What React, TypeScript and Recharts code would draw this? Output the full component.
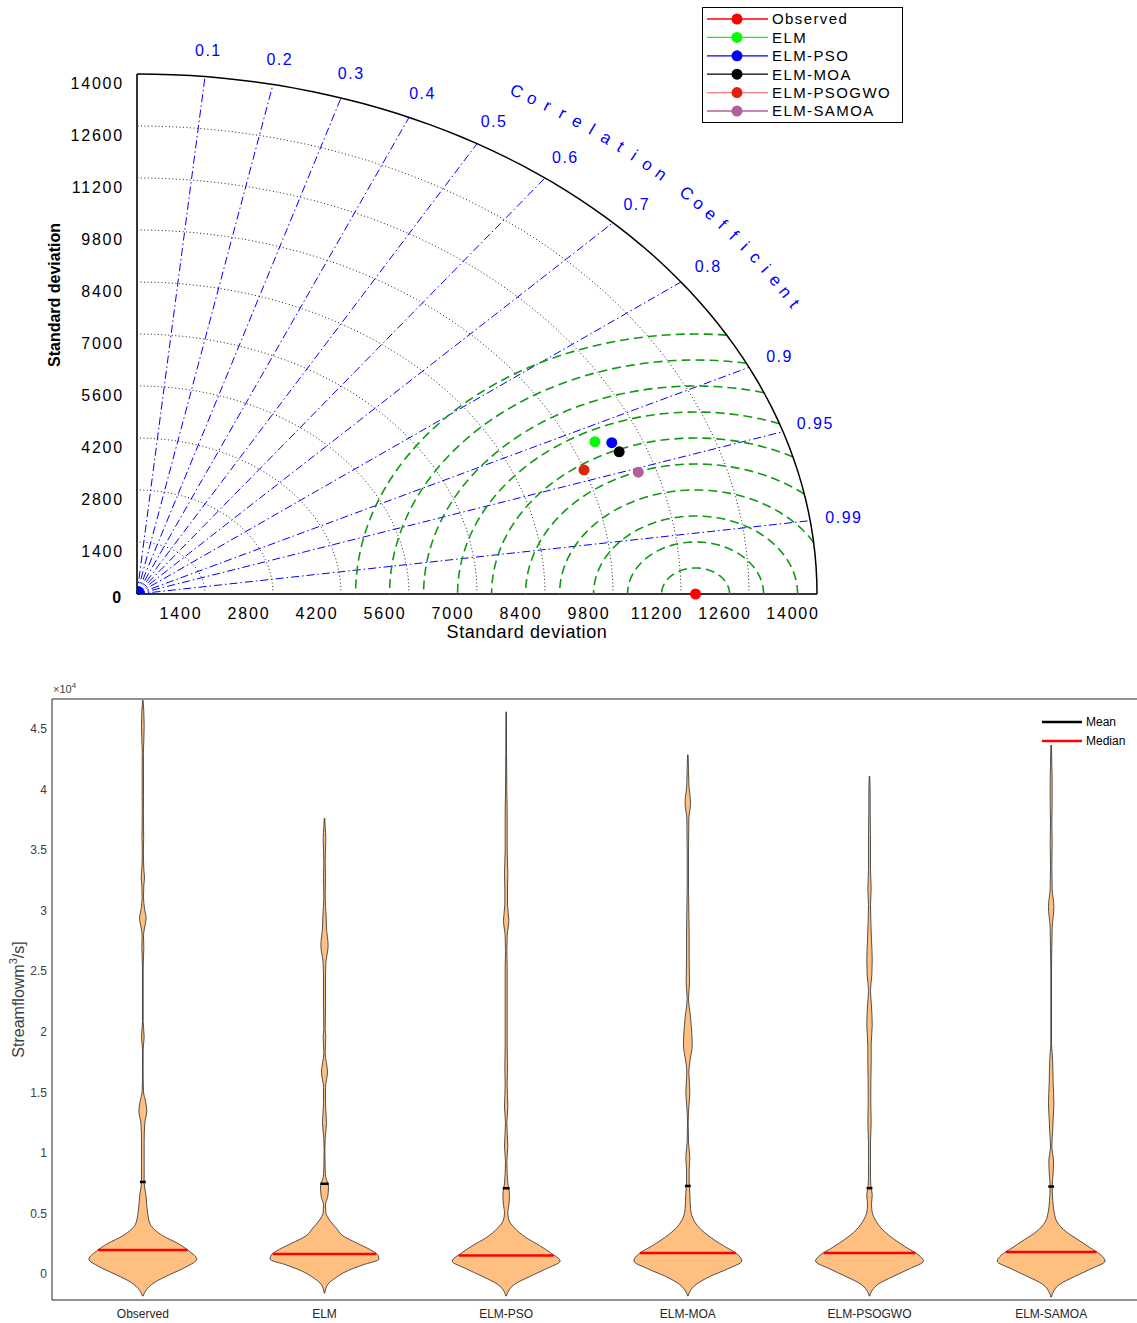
import React from "react";
import {
  Area,
  ComposedChart,
  Legend,
  ReferenceDot,
  ReferenceLine,
  Scatter,
  ScatterChart,
  XAxis,
  YAxis,
} from "recharts";

const FONT = "'Liberation Sans', Arial, Helvetica, sans-serif";

// ---------- Taylor diagram ----------
const modelNames = ["Observed", "ELM", "ELM-PSO", "ELM-MOA", "ELM-PSOGWO", "ELM-SAMOA"];
const modelStd = [11500, 10280, 10590, 10640, 9790, 10830];
const modelCorr = [1, 0.917, 0.923, 0.933, 0.94, 0.953];
const markerColors = ["#ff0000", "#00ff00", "#0000ff", "#000000", "#e2200c", "#b45f9b"];
const legendLineColors = ["#ff0000", "#00ff00", "#0000ff", "#000000", "#f08080", "#b45f9b"];
const stdTicks = [1400, 2800, 4200, 5600, 7000, 8400, 9800, 11200, 12600, 14000];
const corrTicks = [0.1, 0.2, 0.3, 0.4, 0.5, 0.6, 0.7, 0.8, 0.9, 0.95, 0.99];
const rmsTicks = [700, 1400, 2100, 2800, 3500, 4200, 4900, 5600, 6300, 7000];
const corrTitle = "Correlation Coefficient";

const STD_MAX = 14000;
const OBS_STD = modelStd[0];

// ---------- Violin plot ----------
const violinNames = ["Observed", "ELM", "ELM-PSO", "ELM-MOA", "ELM-PSOGWO", "ELM-SAMOA"];
const violinMeans = [7600, 7450, 7080, 7270, 7090, 7220];
const violinMedians = [1980, 1650, 1530, 1730, 1730, 1810];
const streamTicks = [0, 5000, 10000, 15000, 20000, 25000, 30000, 35000, 40000, 45000];

// [streamflow, half width of the density]
const observedProfile: [number, number][] = [
  [47380, 0.0015], [46420, 0.0055], [45290, 0.0073], [44000, 0.0055], [43040, 0.003],
  [41430, 0.0037], [39500, 0.0037], [38220, 0.003], [35960, 0.0046], [35000, 0.003],
  [33390, 0.0055], [32750, 0.0092], [32100, 0.0055], [31140, 0.0037], [30170, 0.0092],
  [29370, 0.018], [28570, 0.0092], [27920, 0.0037], [26960, 0.0055], [25350, 0.002],
  [23100, 0.002], [20850, 0.002], [19560, 0.0073], [18600, 0.002], [16990, 0.0015],
  [15060, 0.0037], [14260, 0.015], [13450, 0.022], [12490, 0.011], [10880, 0.0073],
  [9270, 0.0073], [7660, 0.0073], [6380, 0.018], [5090, 0.026], [4130, 0.04],
  [3160, 0.11], [2520, 0.193], [1870, 0.257], [1230, 0.297], [590, 0.239],
  [-60, 0.147], [-700, 0.064], [-1340, 0.018], [-1830, 0.0015],
];
const elmProfile: [number, number][] = [
  [37640, 0.0015], [36930, 0.0037], [35960, 0.0073], [35000, 0.0055], [34030, 0.0037],
  [32750, 0.0055], [31140, 0.0037], [29530, 0.0092], [28570, 0.011], [27120, 0.02],
  [25670, 0.0073], [24710, 0.0055], [22140, 0.0055], [20200, 0.0037], [19560, 0.0073],
  [18280, 0.0037], [16670, 0.0165], [15380, 0.0055], [14100, 0.0055], [12490, 0.011],
  [11200, 0.0037], [10240, 0.002], [8630, 0.0037], [7990, 0.0073], [7180, 0.022],
  [6380, 0.018], [5730, 0.0055], [5090, 0.0073], [4450, 0.0275], [3800, 0.064],
  [3160, 0.101], [2520, 0.183], [2040, 0.248], [1550, 0.294], [1230, 0.3],
  [750, 0.211], [270, 0.128], [-380, 0.055], [-860, 0.018], [-1600, 0.0015],
];
const psoProfile: [number, number][] = [
  [46420, 0.0015], [43040, 0.002], [39820, 0.0037], [38220, 0.0055], [35960, 0.0055],
  [35000, 0.0055], [33070, 0.0092], [31780, 0.0073], [30500, 0.0073], [29210, 0.015],
  [27920, 0.0055], [26640, 0.0037], [25350, 0.0055], [22140, 0.0055], [18920, 0.0055],
  [16990, 0.0073], [15700, 0.0055], [13790, 0.0092], [12490, 0.0037], [10560, 0.0092],
  [9270, 0.0037], [8310, 0.0055], [7500, 0.0092], [6540, 0.018], [5730, 0.015],
  [5090, 0.0092], [4450, 0.015], [3800, 0.046], [3000, 0.11], [2360, 0.183],
  [1710, 0.248], [1070, 0.297], [430, 0.22], [-220, 0.128], [-860, 0.046],
  [-1500, 0.0092], [-1830, 0.0015],
];
const moaProfile: [number, number][] = [
  [42880, 0.0015], [41750, 0.0037], [40470, 0.0055], [38860, 0.015], [37570, 0.0055],
  [35000, 0.0037], [31780, 0.0037], [29850, 0.0055], [27920, 0.0073], [25990, 0.0073],
  [24070, 0.0092], [22780, 0.0037], [21170, 0.015], [18920, 0.024], [17310, 0.0092],
  [16670, 0.0055], [15060, 0.011], [13770, 0.0055], [12490, 0.002], [10880, 0.0037],
  [9590, 0.011], [8630, 0.0073], [7660, 0.0073], [6700, 0.011], [5400, 0.015],
  [4610, 0.0275], [3800, 0.064], [3000, 0.128], [2360, 0.193], [1710, 0.266],
  [1070, 0.297], [430, 0.22], [-220, 0.119], [-860, 0.046], [-1500, 0.0092],
  [-1830, 0.0015],
];
const psogwoProfile: [number, number][] = [
  [41110, 0.0015], [39500, 0.0037], [38220, 0.0037], [36290, 0.0055], [35000, 0.0055],
  [33390, 0.0055], [31780, 0.0092], [30500, 0.0055], [29210, 0.0073], [27600, 0.011],
  [25990, 0.015], [24710, 0.013], [23420, 0.0055], [22140, 0.011], [20530, 0.015],
  [18920, 0.0092], [17310, 0.0092], [15700, 0.0073], [14100, 0.0073], [12490, 0.0092],
  [10880, 0.0055], [9270, 0.0055], [7990, 0.0055], [7340, 0.0073], [6540, 0.015],
  [5730, 0.011], [5090, 0.015], [4450, 0.033], [3640, 0.073], [2840, 0.138],
  [2200, 0.202], [1550, 0.272], [1070, 0.297], [430, 0.22], [-220, 0.128],
  [-860, 0.046], [-1500, 0.0092], [-1830, 0.0015],
];
const samoaProfile: [number, number][] = [
  [43680, 0.0015], [42070, 0.0037], [40790, 0.0055], [38860, 0.0055], [37250, 0.0037],
  [35640, 0.0055], [33710, 0.0037], [31780, 0.0055], [30340, 0.015], [28570, 0.0055],
  [26960, 0.0037], [25350, 0.002], [22140, 0.002], [18920, 0.002], [18280, 0.0055],
  [16990, 0.0092], [15700, 0.011], [14100, 0.015], [12810, 0.011], [11580, 0.0073],
  [10560, 0.0037], [9270, 0.013], [7990, 0.0092], [7180, 0.0055], [6060, 0.0092],
  [5090, 0.0165], [4290, 0.033], [3480, 0.083], [2840, 0.147], [2200, 0.211],
  [1550, 0.275], [1070, 0.297], [430, 0.22], [-220, 0.128], [-860, 0.046],
  [-1500, 0.011], [-1920, 0.0015],
];
const violinProfiles = [observedProfile, elmProfile, psoProfile, moaProfile, psogwoProfile, samoaProfile];

const Y_MIN = -2147;
const Y_MAX = 47477;

// ---------- geometry helpers (grid of the Taylor diagram) ----------
const toXY = (std: number, corr: number) => ({
  x: std * corr,
  y: std * Math.sqrt(Math.max(0, 1 - corr * corr)),
});

const stdArc = (r: number) => {
  const pts: { x: number; y: number }[] = [];
  for (let a = 0; a <= 90; a += 1.5) {
    const t = (a * Math.PI) / 180;
    pts.push({ x: r * Math.cos(t), y: r * Math.sin(t) });
  }
  return pts;
};

const rmsArc = (rho: number) => {
  const pts: { x: number; y: number }[] = [];
  if (OBS_STD + rho > STD_MAX) {
    const xi = (STD_MAX * STD_MAX - rho * rho + OBS_STD * OBS_STD) / (2 * OBS_STD);
    pts.push({ x: xi, y: Math.sqrt(STD_MAX * STD_MAX - xi * xi) });
  }
  for (let a = 0; a <= 180; a += 2) {
    const t = (a * Math.PI) / 180;
    const x = OBS_STD + rho * Math.cos(t);
    const y = Math.max(0, rho * Math.sin(t));
    if (Math.hypot(x, y) <= STD_MAX) pts.push({ x, y });
  }
  return pts;
};

const noShape = () => <g />;

const profileAt = (profile: [number, number][], v: number) => {
  const sorted = [...profile].sort((a, b) => a[0] - b[0]);
  for (let k = 0; k < sorted.length - 1; k++) {
    const [y0, w0] = sorted[k];
    const [y1, w1] = sorted[k + 1];
    if (v >= y0 && v <= y1) return w0 + ((w1 - w0) * (v - y0)) / (y1 - y0);
  }
  return 0;
};

const TaylorLegend = () => (
  <div style={{ width: 201, height: 116, border: "1px solid #000", background: "#fff", boxSizing: "border-box" }}>
    <svg width={199} height={114}>
      {modelNames.map((n, i) => (
        <g key={n} transform={`translate(0, ${11 + i * 18.4})`}>
          <line x1={4} x2={65} y1={0} y2={0} stroke={legendLineColors[i]} strokeWidth={1.3} />
          <circle cx={34} cy={0} r={5.5} fill={markerColors[i]} />
          <text x={69} y={0} dy="0.36em" fontSize={15} letterSpacing={1.4} fontFamily={FONT} fill="#000">
            {n}
          </text>
        </g>
      ))}
    </svg>
  </div>
);

const ViolinLegend = () => (
  <svg width={95} height={36}>
    <line x1={2} x2={42} y1={7} y2={7} stroke="#000" strokeWidth={2.5} />
    <text x={46} y={7} dy="0.36em" fontSize={12} fontFamily={FONT} fill="#000">Mean</text>
    <line x1={2} x2={42} y1={26} y2={26} stroke="#ff0000" strokeWidth={2.5} />
    <text x={46} y={26} dy="0.36em" fontSize={12} fontFamily={FONT} fill="#000">Median</text>
  </svg>
);

function TaylorDiagram() {
  const plotW = 680;
  const plotH = 520;
  const titleStep = 30 / (corrTitle.length - 1);
  return (
    <ScatterChart width={1137} height={660} margin={{ top: 74, right: 320, bottom: 26, left: 37 }}>
      <XAxis
        type="number"
        dataKey="x"
        domain={[0, STD_MAX]}
        ticks={stdTicks}
        interval={0}
        height={40}
        tickLine={false}
        tickSize={0}
        tickMargin={0}
        axisLine={{ stroke: "#333", strokeWidth: 2 }}
        tick={(p: any) => (
          <text x={p.x - 24} y={p.y + 19} dy="0.36em" textAnchor="middle" fontSize={16} letterSpacing={1.8} fontFamily={FONT} fill="#000">
            {p.payload.value}
          </text>
        )}
        label={{
          content: ({ viewBox }: any) => (
            <text x={viewBox.x + viewBox.width / 2 + 50} y={viewBox.y + 38} dy="0.36em" textAnchor="middle" fontSize={18} letterSpacing={0.6} fontFamily={FONT} fill="#000">
              Standard deviation
            </text>
          ),
        }}
      />
      <YAxis
        type="number"
        dataKey="y"
        domain={[0, STD_MAX]}
        ticks={[0, ...stdTicks]}
        interval={0}
        width={100}
        tickLine={false}
        tickSize={0}
        tickMargin={13}
        axisLine={{ stroke: "#333", strokeWidth: 2 }}
        tick={(p: any) => (
          <text
            x={p.payload.value === 0 ? p.x - 1 : p.x}
            y={p.payload.value === 0 ? p.y + 3 : p.y + 9}
            dy="0.36em"
            textAnchor="end"
            fontSize={16}
            fontWeight={p.payload.value === 0 ? 700 : 400}
            letterSpacing={1.8}
            fontFamily={FONT}
            fill="#000"
          >
            {p.payload.value}
          </text>
        )}
        label={{
          content: ({ viewBox }: any) => {
            const lx = viewBox.x + viewBox.width - 83;
            const ly = viewBox.y + 221;
            return (
              <text
                x={lx}
                y={ly}
                transform={`rotate(-90, ${lx}, ${ly})`}
                dy="0.36em"
                textAnchor="middle"
                fontSize={16}
                fontWeight={700}
                fontFamily={FONT}
                fill="#000"
              >
                Standard deviation
              </text>
            );
          },
        }}
      />

      {stdTicks.slice(0, -1).map((r) => (
        <Scatter
          key={`std-${r}`}
          data={stdArc(r)}
          line={{ stroke: "#222", strokeWidth: 1, strokeDasharray: "1 2.5" }}
          shape={noShape}
          isAnimationActive={false}
        />
      ))}

      {corrTicks.map((c) => (
        <Scatter
          key={`corr-${c}`}
          data={[{ x: 0, y: 0 }, toXY(STD_MAX, c)]}
          line={{ stroke: "#0000ff", strokeWidth: 1, strokeDasharray: "8 3 1.5 3" }}
          shape={noShape}
          isAnimationActive={false}
        />
      ))}

      {rmsTicks.map((rho) => (
        <Scatter
          key={`rms-${rho}`}
          data={rmsArc(rho)}
          line={{ stroke: "#119911", strokeWidth: 1.6, strokeDasharray: "9 5" }}
          shape={noShape}
          isAnimationActive={false}
        />
      ))}

      <Scatter
        data={stdArc(STD_MAX)}
        line={{ stroke: "#000", strokeWidth: 1.5 }}
        shape={noShape}
        isAnimationActive={false}
      />

      <ReferenceDot
        x={0}
        y={0}
        ifOverflow="visible"
        shape={(p: any) => <path d={`M${p.cx},${p.cy} L${p.cx + 8},${p.cy} A8,8 0 0,0 ${p.cx},${p.cy - 8} Z`} fill="#0000ff" />}
      />

      {modelNames.map((n, i) => (
        <Scatter
          key={n}
          name={n}
          data={[toXY(modelStd[i], modelCorr[i])]}
          shape={(p: any) => <circle cx={p.cx} cy={p.cy} r={5.5} fill={markerColors[i]} />}
          isAnimationActive={false}
        />
      ))}

      {corrTicks.map((c) => {
        const pt = toXY(14700, c);
        return (
          <ReferenceDot
            key={`clabel-${c}`}
            x={pt.x}
            y={pt.y}
            ifOverflow="visible"
            shape={(p: any) => (
              <text x={p.cx} y={p.cy} dy="0.36em" textAnchor="middle" fontSize={16} letterSpacing={1.5} fontFamily={FONT} fill="#0000ff">
                {c}
              </text>
            )}
          />
        );
      })}

      {corrTitle.split("").map((ch, k) => {
        if (ch === " ") return null;
        const deg = 60 - k * titleStep;
        const t = (deg * Math.PI) / 180;
        const pt = { x: 15640 * Math.cos(t), y: 15640 * Math.sin(t) };
        const rot = (Math.atan2(plotH * Math.cos(t), plotW * Math.sin(t)) * 180) / Math.PI;
        return (
          <ReferenceDot
            key={`title-${k}`}
            x={pt.x}
            y={pt.y}
            ifOverflow="visible"
            shape={(p: any) => (
              <text
                x={p.cx}
                y={p.cy}
                dy="0.36em"
                textAnchor="middle"
                transform={`rotate(${rot}, ${p.cx}, ${p.cy})`}
                fontSize={17}
                fontFamily={FONT}
                fill="#0000ff"
              >
                {ch}
              </text>
            )}
          />
        );
      })}

      <Legend
        layout="horizontal"
        verticalAlign="middle"
        align="center"
        content={() => <TaylorLegend />}
        wrapperStyle={{ left: 702, top: 7, width: 201, height: 116 }}
      />
    </ScatterChart>
  );
}

function ViolinPlot() {
  return (
    <ComposedChart layout="vertical" width={1146} height={663} margin={{ top: 39, right: 4, bottom: 3, left: 2 }}>
      <XAxis
        type="number"
        domain={[-0.5, 5.5]}
        ticks={[0, 1, 2, 3, 4, 5]}
        interval={0}
        height={20}
        tickLine={false}
        tickSize={0}
        tickMargin={9}
        tickFormatter={(i: number) => violinNames[i]}
        tick={{ fill: "#262626", fontSize: 12, fontFamily: FONT }}
        axisLine={{ stroke: "#262626", strokeWidth: 1 }}
      />
      <YAxis
        type="number"
        dataKey="y"
        reversed
        domain={[Y_MIN, Y_MAX]}
        ticks={streamTicks}
        interval={0}
        width={50}
        tickLine={false}
        tickSize={0}
        tickMargin={5}
        tickFormatter={(v: number) => String(v / 10000)}
        tick={{ fill: "#404040", fontSize: 12, fontFamily: FONT }}
        axisLine={{ stroke: "#262626", strokeWidth: 1 }}
        label={{
          content: ({ viewBox }: any) => {
            const ax = viewBox.x + viewBox.width;
            const lx = ax - 34;
            const ly = viewBox.y + viewBox.height / 2;
            return (
              <g>
                <text x={ax + 1} y={viewBox.y - 6} fontSize={11} fontFamily={FONT} fill="#404040">
                  ×10
                  <tspan dy={-5} fontSize={8}>4</tspan>
                </text>
                <text
                  x={lx}
                  y={ly}
                  transform={`rotate(-90, ${lx}, ${ly})`}
                  dy="0.36em"
                  textAnchor="middle"
                  fontSize={16}
                  fontFamily={FONT}
                  fill="#404040"
                >
                  Streamflowm
                  <tspan dy={-7} fontSize={11}>3</tspan>
                  <tspan dy={7}>/s]</tspan>
                </text>
              </g>
            );
          },
        }}
      />
      <ReferenceLine y={Y_MAX} stroke="#262626" strokeWidth={1} />

      {violinProfiles.map((profile, i) => {
        const rows = [...profile]
          .sort((a, b) => a[0] - b[0])
          .map(([y, w]) => ({ y, [`v${i}`]: [i - w, i + w] }));
        return (
          <Area
            key={`violin-${i}`}
            data={rows}
            dataKey={`v${i}`}
            type="monotone"
            fill="#ffbf80"
            fillOpacity={1}
            stroke="#2a2a2a"
            strokeWidth={0.8}
            dot={false}
            activeDot={false}
            isAnimationActive={false}
          />
        );
      })}

      {violinMedians.map((m, i) => {
        const hw = profileAt(violinProfiles[i], m);
        return (
          <ReferenceLine
            key={`median-${i}`}
            segment={[{ x: i - hw, y: m }, { x: i + hw, y: m }]}
            stroke="#ff0000"
            strokeWidth={2.5}
            ifOverflow="visible"
          />
        );
      })}
      {violinMeans.map((m, i) => {
        const hw = Math.max(profileAt(violinProfiles[i], m) + 0.006, 0.016);
        return (
          <ReferenceLine
            key={`mean-${i}`}
            segment={[{ x: i - hw, y: m }, { x: i + hw, y: m }]}
            stroke="#000"
            strokeWidth={2.5}
            ifOverflow="visible"
          />
        );
      })}

      <Legend
        layout="horizontal"
        verticalAlign="middle"
        align="center"
        content={() => <ViolinLegend />}
        wrapperStyle={{ left: 1040, top: 55, width: 95, height: 36 }}
      />
    </ComposedChart>
  );
}

export default function App() {
  return (
    <div
      style={{
        position: "absolute",
        left: 0,
        top: 0,
        width: 1137,
        height: 1323,
        overflow: "hidden",
        background: "#fff",
        fontFamily: FONT,
      }}
    >
      <div style={{ position: "absolute", left: 0, top: 0 }}>
        <TaylorDiagram />
      </div>
      <div style={{ position: "absolute", left: 0, top: 660 }}>
        <ViolinPlot />
      </div>
    </div>
  );
}
